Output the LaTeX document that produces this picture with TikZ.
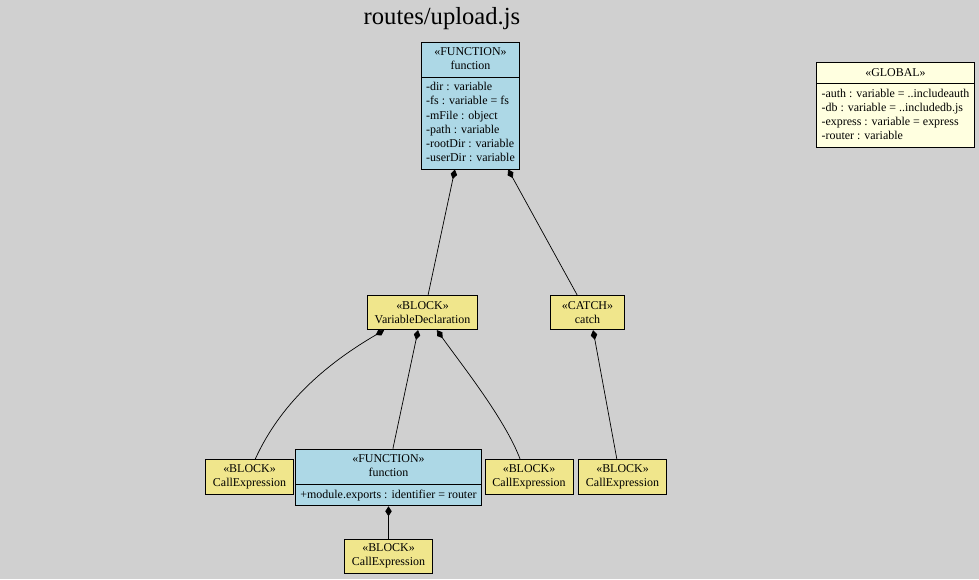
\documentclass[tikz,border=0pt]{standalone}
\usepackage{fontspec}
\setmainfont{Liberation Serif}
\usepackage{tikz}
\usetikzlibrary{arrows.meta,positioning,calc,shapes.multipart}
\usepackage{xcolor}
\definecolor{bggray}{RGB}{208,208,208}
\definecolor{fnblue}{RGB}{173,216,230}
\definecolor{blkyellow}{RGB}{240,230,140}
\definecolor{globyellow}{RGB}{255,255,224}
\newcommand{\tabc}[1]{\begin{tabular}{@{}c@{}}#1\end{tabular}}
\newcommand{\tabl}[1]{\begin{tabular}{@{}l@{}}#1\end{tabular}}

\begin{document}
\begin{tikzpicture}[
    x=0.025cm, y=-0.025cm,
    cls/.style={draw,line width=0.6pt,rectangle split,rectangle split parts=2,
      rectangle split part align={center,left},inner xsep=3.5pt,inner ysep=2.3pt,
      font=\fontsize{8.5}{10}\selectfont},
    blk/.style={draw,line width=0.6pt,fill=blkyellow,align=center,inner xsep=5pt,
      minimum height=0.86cm,font=\fontsize{8.5}{10}\selectfont},
    link/.style={line width=0.5pt,{Diamond[length=7pt,width=4.6pt]}-}
]
\fill[bggray] (0,0) rectangle (979,579);
\useasboundingbox (0,0) rectangle (979,579);
\node[font=\fontsize{17.5}{20}\selectfont] (title) at (442,19) {routes/upload.js};

% Classes
\node[cls,fill=fnblue] (fn) at (470.5,105.5) {\tabc{«FUNCTION»\\function}\nodepart{two}\tabl{-dir : variable\\-fs : variable = fs\\-mFile : object\\-path : variable\\-rootDir : variable\\-userDir : variable}};
\node[cls,fill=globyellow] (glob) at (895.5,105) {\tabc{«GLOBAL»}\nodepart{two}\tabl{-auth : variable = ..includeauth\\-db : variable = ..includedb.js\\-express : variable = express\\-router : variable}};
\node[cls,fill=fnblue] (fn2) at (388.5,477.5) {\tabc{«FUNCTION»\\function}\nodepart{two}\tabl{+module.exports : identifier = router}};

% Blocks
\node[blk] (vd) at (422.5,312.5) {«BLOCK»\\VariableDeclaration};
\node[blk,minimum width=1.83cm] (ct) at (587.5,312.5) {«CATCH»\\catch};
\node[blk,minimum width=2.2cm] (ce1) at (249.5,477) {«BLOCK»\\CallExpression};
\node[blk,minimum width=2.2cm] (ce2) at (529,477) {«BLOCK»\\CallExpression};
\node[blk,minimum width=2.2cm] (ce3) at (622.5,477) {«BLOCK»\\CallExpression};
\node[blk,minimum width=2.2cm,minimum height=0.8cm] (ce4) at (388.5,556) {«BLOCK»\\CallExpression};

% Links
\draw[link] ([xshift=-0.39cm]fn.south) -- ([xshift=0.14cm]vd.north);
\draw[link] ([xshift=0.94cm]fn.south) -- ([xshift=-0.26cm]ct.north);
\draw[link] ([xshift=-0.96cm]vd.south) .. controls +(-60,35) and +(25,-55) .. ([xshift=0.14cm]ce1.north);
\draw[link] ([xshift=-0.11cm]vd.south) -- ([xshift=0.11cm]fn2.north);
\draw[link] ([xshift=0.36cm]vd.south) .. controls +(25,35) and +(-15,-40) .. ([xshift=-0.22cm]ce2.north);
\draw[link] ([xshift=0.14cm]ct.south) -- ([xshift=-0.14cm]ce3.north);
\draw[link] (fn2.south) -- (ce4.north);
\end{tikzpicture}
\end{document}
